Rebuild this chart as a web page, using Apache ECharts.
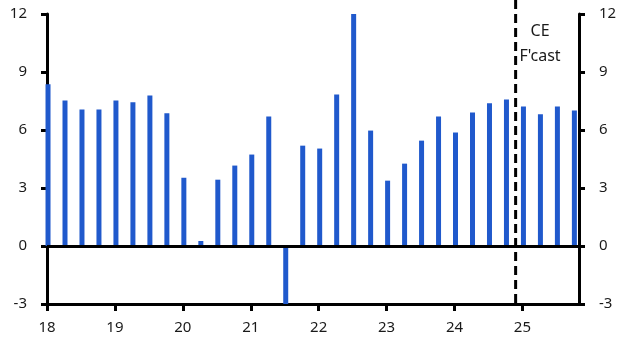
<!DOCTYPE html>
<html>
<head>
<meta charset="utf-8">
<script src="https://cdn.jsdelivr.net/npm/echarts@6/dist/echarts.min.js"></script>
<style>
html,body{margin:0;padding:0;background:#fff;}
#chart{width:630px;height:357px;}
</style>
</head>
<body>
<div id="chart"></div>
<script>
// Quarterly categories (year, quarter)
const years    = [18,18,18,18,19,19,19,19,20,20,20,20,21,21,21,21,22,22,22,22,23,23,23,23,24,24,24,24,25,25,25,25];
const quarters = [1,2,3,4,1,2,3,4,1,2,3,4,1,2,3,4,1,2,3,4,1,2,3,4,1,2,3,4,1,2,3,4];
// Values (% y/y) (clipped bars kept at axis limits)
const values = [8.36,7.53,7.06,7.06,7.53,7.43,7.79,6.86,3.53,0.26,3.43,4.16,4.73,6.70,-3.0,5.19,
                5.04,7.84,12.0,5.97,3.38,4.26,5.45,6.70,5.87,6.91,7.38,7.58,7.22,6.81,7.22,7.01];
const xTickLabels = [18,19,20,21,22,23,24,25];
const yTicks = [-3,0,3,6,9,12];
const forecastStart = 24.9;
const forecastText = "CE\nF'cast";

const FONT = "'Noto Sans', 'Open Sans', sans-serif";
const barData = values.map((v,i)=>[years[i] + (quarters[i]-1)/4 + 0.015, v]);

const chart = echarts.init(document.getElementById('chart'), null, {renderer:'canvas'});
const yAxisCommon = {
  type:'value', min:-3, max:12, interval:3,
  axisLine:{show:true, lineStyle:{color:'#000', width:3}},
  axisTick:{show:true, length:6, lineStyle:{color:'#000', width:3}},
  axisLabel:{fontFamily:FONT, fontSize:15, color:'#1a1a1a', margin:20},
  splitLine:{show:false}
};
chart.setOption({
  animation:false,
  grid:{left:47, right:51, top:14, bottom:53, containLabel:false},
  xAxis:{
    type:'value', min:18, max:25.833,
    axisLine:{show:true, onZero:false, lineStyle:{color:'#000', width:3}},
    axisTick:{show:true, length:7, customValues:xTickLabels, lineStyle:{color:'#000', width:3}},
    axisLabel:{fontFamily:FONT, fontSize:15, color:'#1a1a1a', margin:16, customValues:xTickLabels,
               formatter:v=>String(Math.round(v))},
    splitLine:{show:false}
  },
  yAxis:[
    Object.assign({position:'left'}, yAxisCommon),
    Object.assign({position:'right'}, yAxisCommon)
  ],
  series:[{
    type:'bar',
    data:barData,
    barWidth:5,
    itemStyle:{color:'#2059cc'},
    markLine:{
      silent:true, symbol:'none', animation:false,
      label:{show:false},
      lineStyle:{color:'#000', width:3, type:'solid'},
      data:[{yAxis:0}]
    }
  }]
});

// Forecast divider and label, positioned through the axis scales
const px = chart.convertToPixel({xAxisIndex:0}, forecastStart);
const yBottom = chart.convertToPixel({yAxisIndex:0}, yTicks[0]);
const pxLabel = chart.convertToPixel({xAxisIndex:0}, 25.26);
chart.setOption({
  graphic:[
    {type:'line', shape:{x1:px, y1:0, x2:px, y2:yBottom}, z:10,
     style:{stroke:'#000', lineWidth:3, lineDash:[9,5]}},
    {type:'text', x:pxLabel, y:19, z:10,
     style:{text:forecastText, fontFamily:FONT, fontSize:16, fill:'#1a1a1a', align:'center', lineHeight:25}}
  ]
});
</script>
</body>
</html>
